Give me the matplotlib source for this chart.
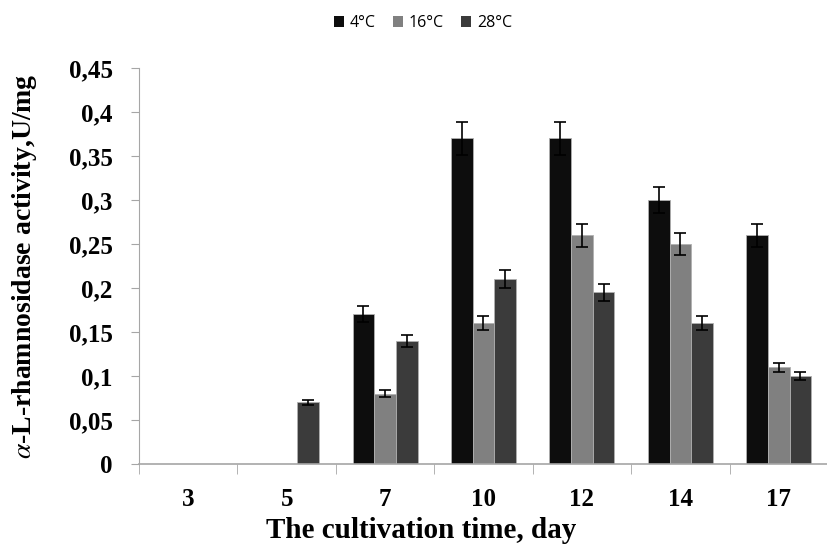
import numpy as np
import matplotlib.pyplot as plt
from matplotlib.ticker import FixedLocator, FuncFormatter

days = ["3", "5", "7", "10", "12", "14", "17"]
series_names = ["4°C", "16°C", "28°C"]
act_4 = [0, 0, 0.17, 0.37, 0.37, 0.30, 0.26]
act_16 = [0, 0, 0.08, 0.16, 0.26, 0.25, 0.11]
act_28 = [0, 0.07, 0.14, 0.21, 0.195, 0.16, 0.10]
err_4 = [0, 0, 0.009, 0.019, 0.019, 0.015, 0.013]
err_16 = [0, 0, 0.004, 0.008, 0.013, 0.012, 0.005]
err_28 = [0, 0.003, 0.007, 0.010, 0.010, 0.008, 0.005]
y_ticks = [0, 0.05, 0.1, 0.15, 0.2, 0.25, 0.3, 0.35, 0.4, 0.45]


def main():
    plt.rcParams["mathtext.fontset"] = "stix"
    fig = plt.figure(figsize=(8.28, 5.44), dpi=100)
    ax = fig.add_axes([139/828, 1-464/544, (828-139)/828, (464-68)/544])

    colors = ["#0d0d0d", "#808080", "#3b3b3b"]
    vals = [act_4, act_16, act_28]
    errs = [err_4, err_16, err_28]
    x = np.arange(len(days))
    w = 0.22
    for i in range(3):
        v = np.array(vals[i])
        e = np.array(errs[i])
        pos = x + (i - 1)*w
        ax.bar(pos, v, width=w, color=colors[i], edgecolor="#b0b0b0",
               linewidth=0.6, label=series_names[i], zorder=2)
        mask = v > 0
        ax.errorbar(pos[mask], v[mask], yerr=e[mask], fmt="none",
                    ecolor="black", elinewidth=1.2, capsize=4,
                    capthick=1.2, zorder=3)

    ax.set_ylim(0, 0.45)
    ax.set_xlim(-0.5, 6.5 - 11/100)

    axcol = "#a6a6a6"
    for s in ["top", "right"]:
        ax.spines[s].set_visible(False)
    ax.spines["left"].set_color(axcol)
    ax.spines["bottom"].set_color(axcol)
    ax.spines["bottom"].set_linewidth(1.2)

    ax.yaxis.set_major_locator(FixedLocator(y_ticks))
    ax.yaxis.set_major_formatter(FuncFormatter(lambda v, p: f"{v:g}".replace(".", ",")))
    ax.tick_params(axis="y", direction="out", length=6, color=axcol, pad=13)

    ax.set_xticks(x)
    ax.set_xticklabels(days)
    ax.set_xticks(np.arange(-0.5, 7.0, 1.0), minor=True)
    ax.tick_params(axis="x", which="major", length=0, pad=17)
    ax.tick_params(axis="x", which="minor", direction="out", length=7, color=axcol)

    for lab in ax.get_xticklabels() + ax.get_yticklabels():
        lab.set_fontfamily("Liberation Serif")
        lab.set_fontweight("bold")
        lab.set_fontsize(18)

    ax.set_xlabel("The cultivation time, day", fontfamily="Liberation Serif",
                  fontweight="bold", fontsize=21, va="center")
    ax.xaxis.set_label_coords((421-139)/689, (464-530)/396)
    ax.set_ylabel(r"$\alpha$-L-rhamnosidase activity,U/mg", fontfamily="Liberation Serif",
                  fontweight="bold", fontsize=20, va="center")
    ax.yaxis.set_label_coords((25-139)/689, 0.5)

    leg = fig.legend(loc="center", bbox_to_anchor=(423/828, 1-23/544), ncol=3,
                     frameon=False, prop={"family": "Open Sans", "size": 11.5},
                     handlelength=0.62, handleheight=0.62, handletextpad=0.35,
                     columnspacing=1.1)
    for h in leg.legend_handles:
        h.set_edgecolor("none")

    fig.savefig("out.png", dpi=100)


if __name__ == "__main__":
    main()
